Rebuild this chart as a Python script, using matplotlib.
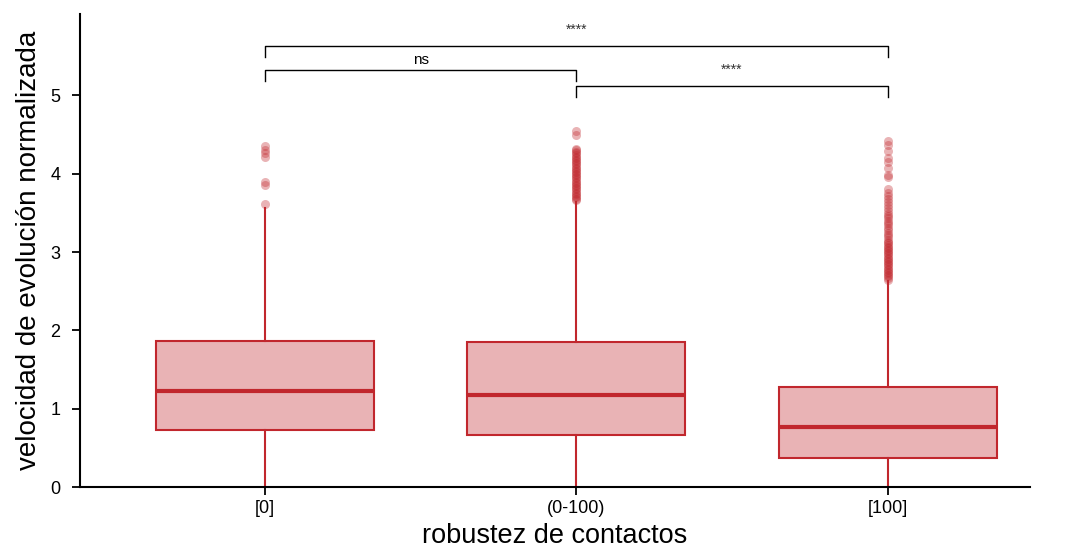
import matplotlib
matplotlib.use('Agg')
import matplotlib.pyplot as plt

plt.rcParams['font.family'] = ['Liberation Sans', 'DejaVu Sans']

# datos
categorias = ['[0]', '(0-100)', '[100]']
q1 = [0.73, 0.66, 0.37]
mediana = [1.22, 1.18, 0.77]
q3 = [1.86, 1.85, 1.28]
bigote_inf = [0.0, 0.0, 0.0]
bigote_sup = [3.56, 3.64, 2.63]

atipicos_0 = [3.62, 3.86, 3.89, 4.22, 4.26, 4.31, 4.35]
atipicos_1 = [3.66, 3.68, 3.70, 3.72, 3.74, 3.76, 3.78, 3.80, 3.82, 3.84,
              3.86, 3.88, 3.90, 3.92, 3.94, 3.96, 3.98, 4.00, 4.02, 4.04,
              4.06, 4.08, 4.10, 4.12, 4.14, 4.16, 4.18, 4.20, 4.22, 4.24,
              4.26, 4.28, 4.30, 4.32, 4.50, 4.55]
atipicos_2 = [2.65, 2.67, 2.69, 2.71, 2.73, 2.75, 2.77, 2.79, 2.81, 2.83,
              2.85, 2.87, 2.89, 2.91, 2.93, 2.95, 2.97, 2.99, 3.01, 3.03,
              3.05, 3.07, 3.09, 3.11, 3.13, 3.16, 3.19, 3.22, 3.25, 3.28,
              3.31, 3.34, 3.37, 3.40, 3.43, 3.46, 3.49, 3.52, 3.56, 3.60,
              3.64, 3.68, 3.72, 3.76, 3.81, 3.96, 3.99, 4.07, 4.15, 4.20,
              4.29, 4.37, 4.42]
atipicos = [atipicos_0, atipicos_1, atipicos_2]

# comparaciones (grupo a, grupo b, etiqueta, altura)
comparaciones = [(0, 2, '****', 5.63), (0, 1, 'ns', 5.33), (1, 2, '****', 5.12)]

ROJO = '#C1272D'

fig = plt.figure(figsize=(10.67, 5.5), dpi=100)
ax = fig.add_axes([0.075, 0.1145, 0.89, 0.86])

stats = []
for i in range(len(categorias)):
    stats.append(dict(label=categorias[i], q1=q1[i], med=mediana[i], q3=q3[i],
                      whislo=bigote_inf[i], whishi=bigote_sup[i], fliers=atipicos[i]))

ax.bxp(stats, positions=range(len(categorias)), widths=0.7, patch_artist=True,
       showcaps=False,
       boxprops=dict(facecolor=(0.757, 0.153, 0.176, 0.35), edgecolor=ROJO, linewidth=1.5),
       medianprops=dict(color=ROJO, linewidth=3),
       whiskerprops=dict(color=ROJO, linewidth=1.5),
       flierprops=dict(marker='o', markerfacecolor=(0.757, 0.153, 0.176, 0.35),
                       markeredgecolor='none', markersize=6.5))

# corchetes de significancia
for a, b, txt, h in comparaciones:
    ax.plot([a, a, b, b], [h - 0.14, h, h, h - 0.14], color='black', lw=1)
    if txt == 'ns':
        ax.text((a + b) / 2, h + 0.03, txt, ha='center', va='bottom', fontsize=11)
    else:
        ax.text((a + b) / 2, h + 0.12, txt, ha='center', va='bottom', fontsize=10,
                color='#333333')

ax.set_xlim(-0.594, 2.456)
ax.set_ylim(0, 6.04)
ax.set_yticks([0, 1, 2, 3, 4, 5])
ax.set_xticks(range(len(categorias)))
ax.set_xticklabels(categorias)
ax.tick_params(axis='both', labelsize=13, width=1.3, length=6, color='black')
ax.tick_params(axis='y', pad=8)
for s in ['top', 'right']:
    ax.spines[s].set_visible(False)
for s in ['left', 'bottom']:
    ax.spines[s].set_linewidth(1.5)

ax.set_xlabel('robustez de contactos', fontsize=19.5, labelpad=4)
ax.set_ylabel('velocidad de evolución normalizada', fontsize=20, labelpad=6)

fig.savefig('out.png', dpi=100, facecolor='white')
